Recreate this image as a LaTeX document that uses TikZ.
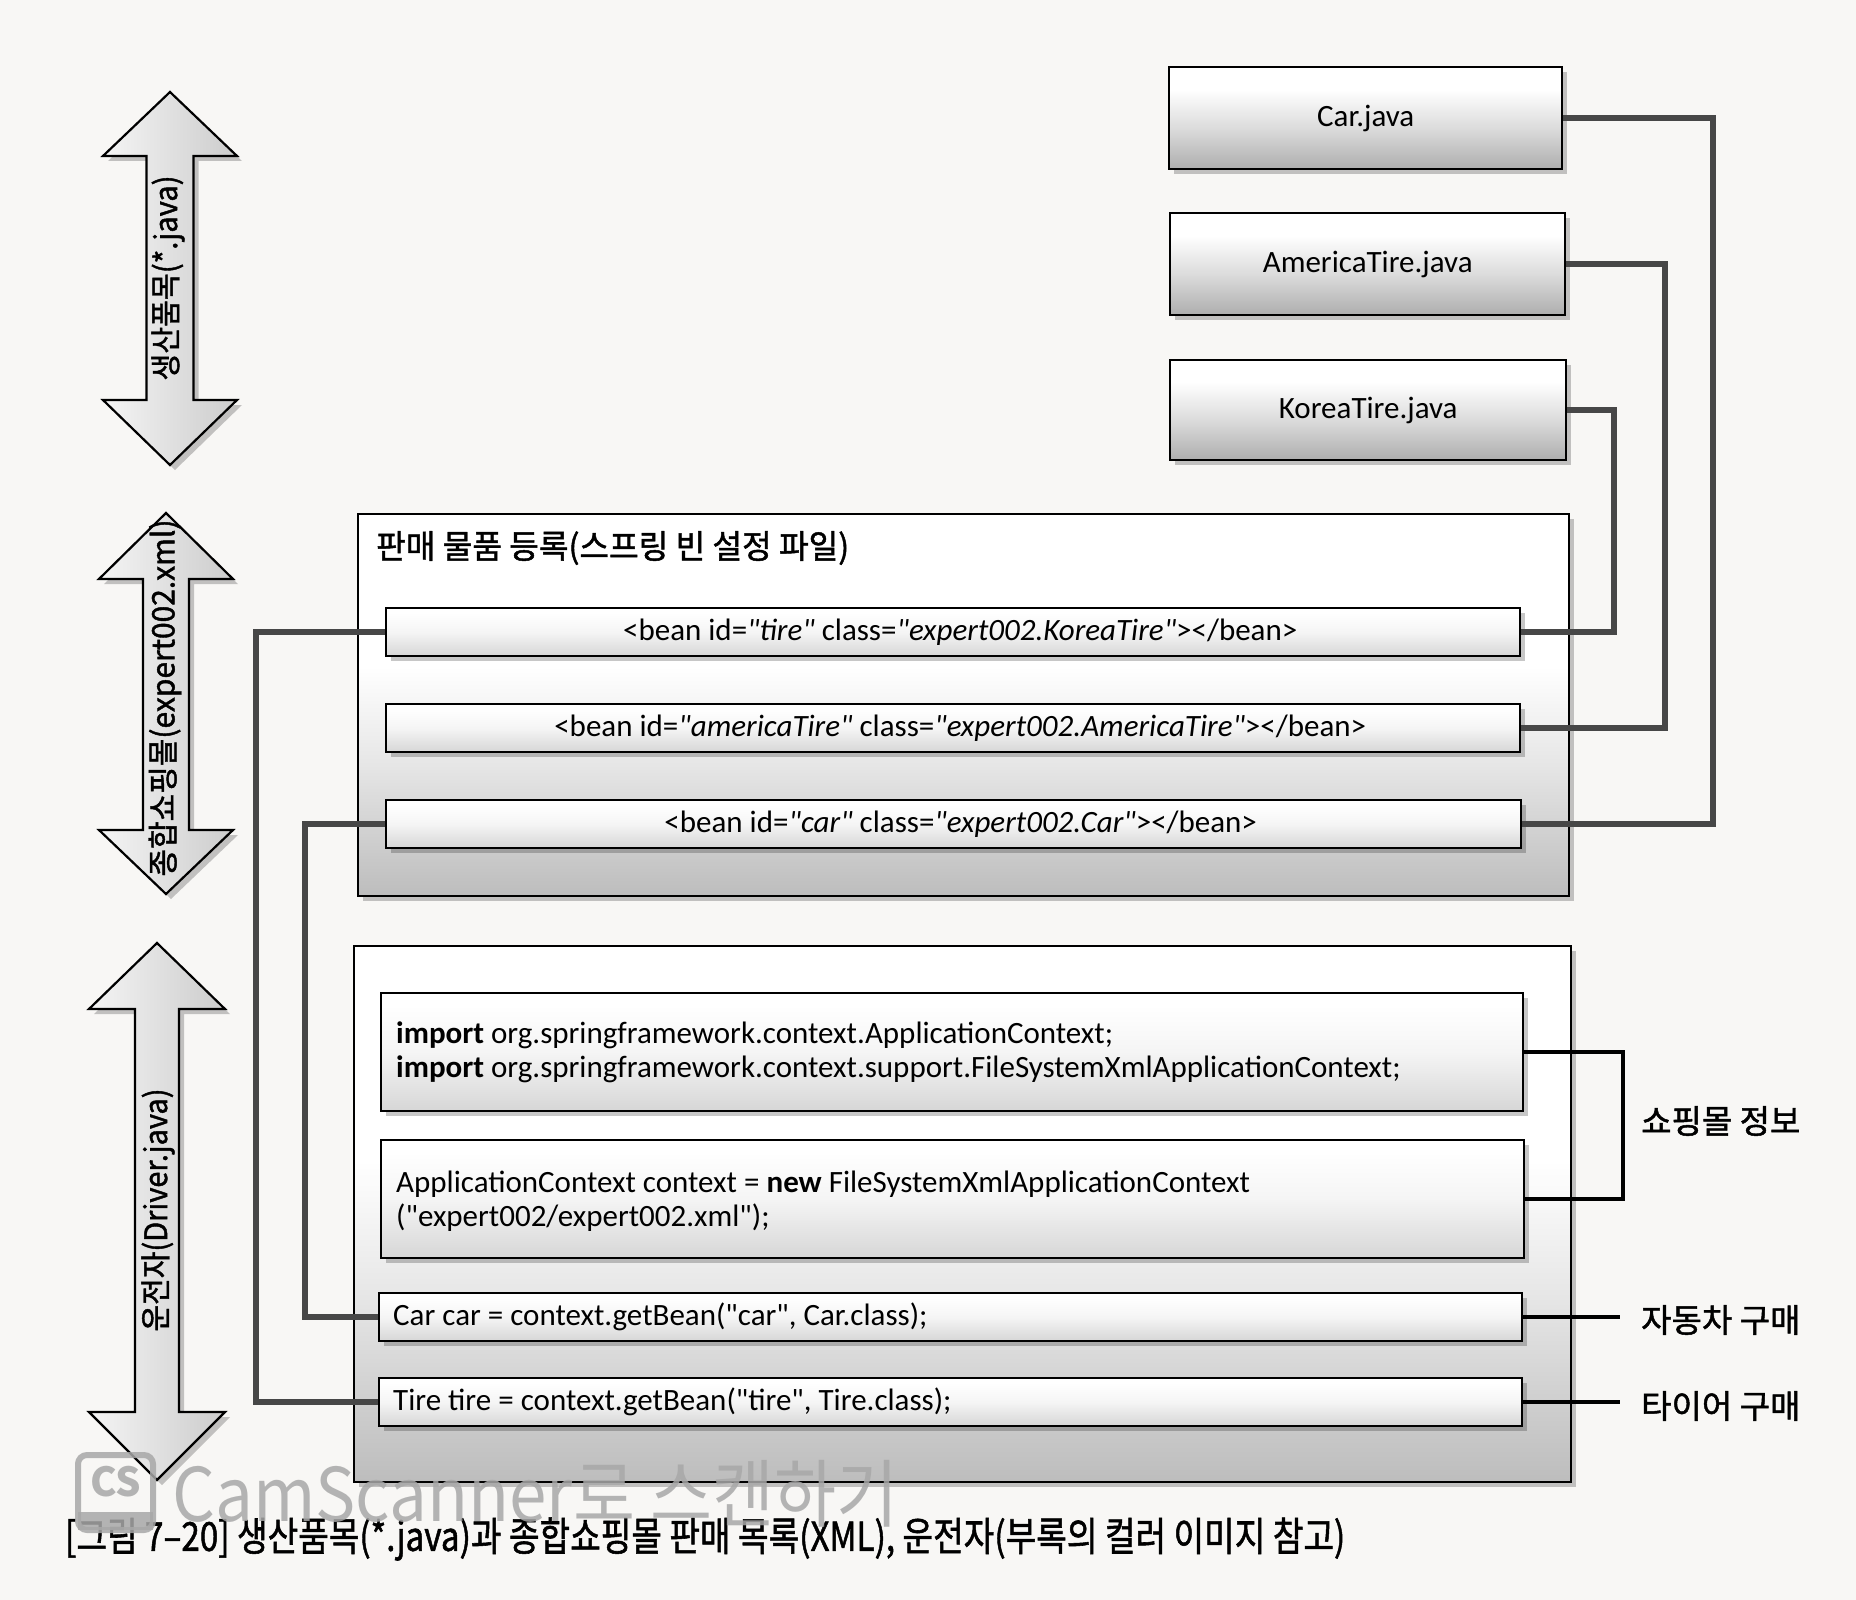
\documentclass[tikz,border=0pt]{standalone}
\usepackage{fontspec}
\usepackage{graphicx}
\setmainfont{Carlito}[Ligatures=TeXOff]
\newfontfamily\kr{Noto Sans CJK KR}[FakeBold=1.4]
\newfontfamily\krplain{Noto Sans CJK KR}
\usetikzlibrary{shadows}
\definecolor{pagebg}{RGB}{248,247,245}
\definecolor{wmark}{RGB}{168,168,168}
\pgfdeclareverticalshading{jshade}{100bp}{color(0bp)=(black!32); color(25bp)=(black!32); color(45bp)=(black!14); color(64bp)=(white); color(100bp)=(white)}
\pgfdeclareverticalshading{panelshade}{100bp}{color(0bp)=(black!26); color(25bp)=(black!26); color(42bp)=(black!10); color(55bp)=(white); color(100bp)=(white)}
\pgfdeclareverticalshading{beanshade}{100bp}{color(0bp)=(black!16); color(25bp)=(black!16); color(50bp)=(black!4); color(70bp)=(white); color(100bp)=(white)}
\newcommand{\dblarrowpath}[7]{%
  \path[bigarrow] (#1,#2) -- (#1+#6,#3) -- (#1+#7,#3) -- (#1+#7,#4) -- (#1+#6,#4) -- (#1,#5)
    -- (#1-#6,#4) -- (#1-#7,#4) -- (#1-#7,#3) -- (#1-#6,#3) -- cycle;}
\begin{document}
\begin{tikzpicture}[x=1pt,y=-1pt,
  shadowed/.style={drop shadow={shadow xshift=5pt,shadow yshift=-5pt,fill=black,opacity=0.22}},
  bigarrow/.style={draw=black,line width=2.2pt,line join=miter,left color=black!4,right color=black!20,shadowed},
  jbox/.style={draw=black,line width=2.4pt,anchor=north west,inner sep=0pt,shading=jshade,shadowed,
    font=\fontsize{31}{36}\selectfont},
  panel/.style={draw=black,line width=2.4pt,anchor=north west,inner sep=0pt,shading=panelshade,shadowed},
  beanbox/.style={draw=black,line width=2.4pt,anchor=north west,inner sep=0pt,shading=beanshade,shadowed,
    font=\fontsize{31}{34}\selectfont},
  codebox/.style={draw=black,line width=2.4pt,anchor=north west,inner sep=0pt,shading=beanshade,shadowed},
  codetext/.style={anchor=west,align=left,inner sep=0pt,font=\fontsize{31}{34}\selectfont},
  krlabel/.style={anchor=west,inner sep=0pt,font=\kr\fontsize{33}{36}\selectfont},
  arrlabel/.style={rotate=90,inner sep=0pt,font=\kr\fontsize{31}{32}\selectfont},
  conn/.style={draw=black!72,line width=5.5pt},
  brk/.style={draw=black,line width=4pt},
]
\useasboundingbox (0,0) rectangle (1856,1600);
\fill[pagebg] (0,0) rectangle (1856,1600);

% ---- big double arrows ----
\dblarrowpath{170}{92}{156}{400}{465}{67}{23.5}
\dblarrowpath{166}{513}{579}{830}{894}{67}{23}
\dblarrowpath{157}{943}{1009}{1412}{1480}{68}{22}
\node[arrlabel] (lab1) at (168,278) {\resizebox{205pt}{\height}{생산품목(*.java)}};
\node[arrlabel] (lab2) at (165,698) {\resizebox{357pt}{\height}{종합쇼핑몰(expert002.xml)}};
\node[arrlabel] (lab3) at (158,1210) {\resizebox{243pt}{\height}{운전자(Driver.java)}};

% ---- java files ----
\node[jbox,minimum width=393pt,minimum height=102pt] (carj) at (1168,66) {Car.java};
\node[jbox,minimum width=395pt,minimum height=102pt] (amj) at (1169,212) {AmericaTire.java};
\node[jbox,minimum width=396pt,minimum height=100pt] (koj) at (1169,359) {KoreaTire.java};

% ---- spring bean configuration ----
\node[panel,minimum width=1211pt,minimum height=382pt] (cfg) at (357,513) {};
\node[krlabel] (cfgtitle) at (376,548) {\resizebox{473pt}{\height}{판매 물품 등록(스프링 빈 설정 파일)}};
\node[beanbox,minimum width=1134pt,minimum height=48pt] (bean1) at (385,607)
  {\hspace*{14pt}<bean id=\textit{"tire"} class=\textit{"expert002.KoreaTire"}></bean>};
\node[beanbox,minimum width=1134pt,minimum height=48pt] (bean2) at (385,703)
  {\hspace*{14pt}<bean id=\textit{"americaTire"} class=\textit{"expert002.AmericaTire"}></bean>};
\node[beanbox,minimum width=1135pt,minimum height=48pt] (bean3) at (385,799)
  {\hspace*{14pt}<bean id=\textit{"car"} class=\textit{"expert002.Car"}></bean>};

% ---- driver ----
\node[panel,minimum width=1217pt,minimum height=536pt] (drv) at (353,945) {};
\node[codebox,minimum width=1142pt,minimum height=118pt] (imp) at (380,992) {};
\node[codetext] (imptext) at (396,1052)
  {\textbf{import} org.springframework.context.ApplicationContext;\\
   \textbf{import} org.springframework.context.support.FileSystemXmlApplicationContext;};
\node[codebox,minimum width=1143pt,minimum height=118pt] (app) at (380,1139) {};
\node[codetext] (apptext) at (396,1201)
  {ApplicationContext context = \textbf{new} FileSystemXmlApplicationContext\\
   ("expert002/expert002.xml");};
\node[codebox,minimum width=1143pt,minimum height=48pt] (carcar) at (378,1292) {};
\node[codetext] (carcartext) at (393,1317) {Car car = context.getBean("car", Car.class);};
\node[codebox,minimum width=1143pt,minimum height=48pt] (tirebox) at (378,1377) {};
\node[codetext] (tiretext) at (393,1402) {Tire tire = context.getBean("tire", Tire.class);};

% ---- right labels ----
\node[krlabel] (shop) at (1641,1121) {쇼핑몰 정보};
\node[krlabel] (buycar) at (1641,1320) {자동차 구매};
\node[krlabel] (buytire) at (1641,1406) {타이어 구매};

% ---- connectors ----
\coordinate (vcar) at (1713,0);
\coordinate (vam) at (1665,0);
\coordinate (vko) at (1614,0);
\coordinate (vl1) at (256,0);
\coordinate (vl2) at (305,0);
\coordinate (vbr) at (1623,0);
\coordinate (vend) at (1620,0);
\draw[conn] (carj.east) -- (carj.east -| vcar) -- (bean3.east -| vcar) -- (bean3.east);
\draw[conn] (amj.east) -- (amj.east -| vam) -- (bean2.east -| vam) -- (bean2.east);
\draw[conn] (koj.east) -- (koj.east -| vko) -- (bean1.east -| vko) -- (bean1.east);
\draw[conn] (bean1.west) -- (bean1.west -| vl1) -- (tirebox.west -| vl1) -- (tirebox.west);
\draw[conn] (bean3.west) -- (bean3.west -| vl2) -- (carcar.west -| vl2) -- (carcar.west);
\draw[brk] (imp.east) -- (imp.east -| vbr) -- (app.east -| vbr) -- (app.east);
\draw[brk] (carcar.east) -- (carcar.east -| vend);
\draw[brk] (tirebox.east) -- (tirebox.east -| vend);

% ---- caption ----
\node[anchor=west,inner sep=0pt] (caption) at (65,1539)
  {\resizebox{1280pt}{\height}{\kr\fontsize{40}{42}\selectfont [그림 7–20] 생산품목(*.java)과 종합쇼핑몰 판매 목록(XML), 운전자(부록의 컬러 이미지 참고)}};

% ---- scanner watermark ----
\begin{scope}[opacity=0.85]
  \draw[wmark,line width=6pt,rounded corners=9pt] (78,1455) rectangle (153,1530);
  \fill[wmark] (78,1512) rectangle (153,1530);
  \node[inner sep=0pt,text=wmark,font=\krplain\bfseries\fontsize{40}{40}\selectfont] (cslogo) at (115.5,1482) {CS};
  \node[anchor=west,inner sep=0pt,text=wmark] (cstext) at (172,1494)
    {\resizebox{726pt}{\height}{\krplain\fontsize{74}{76}\selectfont CamScanner로 스캔하기}};
\end{scope}
\end{tikzpicture}
\end{document}
